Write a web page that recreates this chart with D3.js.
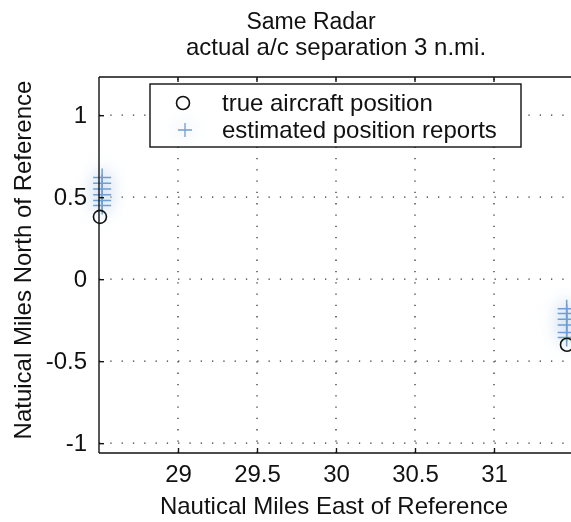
<!DOCTYPE html>
<html>
<head>
<meta charset="utf-8">
<script src="https://cdn.jsdelivr.net/npm/d3@7"></script>
<style>
  html, body { margin: 0; padding: 0; background: #fff; }
  svg { display: block; font-family: "Liberation Sans", Arial, Helvetica, sans-serif; }
</style>
</head>
<body>
<svg id="chart" width="571" height="522"></svg>
<script>
// Tick values for both axes
const xTicks = [29, 29.5, 30, 30.5, 31];
const yTicks = [-1, -0.5, 0, 0.5, 1];

// True aircraft positions (nautical miles)
const trueX = [28.506, 31.462];
const trueY = [0.38, -0.40];

// Radar position reports for both aircraft
const estX = [28.52, 28.52, 28.52, 28.52, 28.52, 28.52,
              31.46, 31.46, 31.46, 31.46, 31.46, 31.46];
const estY = [0.62, 0.585, 0.55, 0.515, 0.48, 0.45,
              -0.18, -0.21, -0.245, -0.28, -0.325, -0.355];

const legendLabels = ["true aircraft position", "estimated position reports"];

const svg = d3.select("#chart");
const plot = { left: 99, right: 573, top: 77, bottom: 453 };
const FS = 24;

const x = d3.scaleLinear().domain([28.5, 31.5]).range([plot.left, plot.right]);
const y = d3.scaleLinear().domain([-1.06, 1.233]).range([plot.bottom, plot.top]);
const fmt = d => String(d); // plain hyphen for negatives

const defs = svg.append("defs");
defs.append("clipPath").attr("id", "clip")
  .append("rect").attr("x", plot.left).attr("y", plot.top)
  .attr("width", plot.right - plot.left).attr("height", plot.bottom - plot.top);
defs.append("filter").attr("id", "haze").attr("x", "-200%").attr("y", "-100%")
  .attr("width", "500%").attr("height", "300%")
  .append("feGaussianBlur").attr("stdDeviation", 8);

// Dotted grid
const grid = svg.append("g").attr("clip-path", "url(#clip)")
  .attr("stroke", "#333").attr("stroke-width", 1.3).attr("stroke-dasharray", "1.3,10");
grid.selectAll("line.gx").data(xTicks).join("line")
  .attr("x1", d => x(d)).attr("x2", d => x(d))
  .attr("y1", plot.bottom).attr("y2", plot.top);
grid.selectAll("line.gy").data(yTicks).join("line")
  .attr("y1", d => y(d)).attr("y2", d => y(d))
  .attr("x1", plot.left).attr("x2", plot.right);

// Position reports: soft halo plus crisp crosshair marks
const marks = svg.append("g");
const est = estX.map((v, i) => ({ x: v, y: estY[i] }));
const plusPath = s => `M${-s},0H${s}M0,${-s}V${s}`;

marks.append("g").attr("filter", "url(#haze)")
  .selectAll("path").data(est).join("path")
  .attr("transform", d => `translate(${x(d.x)},${y(d.y)})`)
  .attr("d", plusPath(12))
  .attr("stroke", "#c4d8ee").attr("stroke-width", 9).attr("opacity", 0.35);

marks.append("g").selectAll("path").data(est).join("path")
  .attr("transform", d => `translate(${x(d.x)},${y(d.y)})`)
  .attr("d", plusPath(9))
  .attr("stroke", "#6f9fd2").attr("stroke-width", 1.5).attr("fill", "none");

// True positions
marks.append("g").selectAll("circle").data(trueX.map((v, i) => ({ x: v, y: trueY[i] })))
  .join("circle")
  .attr("cx", d => x(d.x)).attr("cy", d => y(d.y)).attr("r", 6.5)
  .attr("fill", "none").attr("stroke", "#111").attr("stroke-width", 1.6);

// Axes box with inward ticks
const axes = svg.append("g").attr("stroke", "#111").attr("stroke-width", 1.4).attr("fill", "none");
axes.append("line").attr("x1", plot.left).attr("x2", plot.left).attr("y1", plot.top).attr("y2", plot.bottom);
axes.append("line").attr("x1", plot.left).attr("x2", plot.right).attr("y1", plot.bottom).attr("y2", plot.bottom);
axes.append("line").attr("x1", plot.left).attr("x2", plot.right).attr("y1", plot.top).attr("y2", plot.top);

const xAxis = d3.axisBottom(x).tickValues(xTicks).tickSizeInner(-5).tickSizeOuter(0)
  .tickPadding(12).tickFormat(fmt);
const gx = svg.append("g").attr("transform", `translate(0,${plot.bottom})`).call(xAxis);
gx.select(".domain").remove();

const yAxis = d3.axisLeft(y).tickValues(yTicks).tickSizeInner(-5).tickSizeOuter(0)
  .tickPadding(12).tickFormat(fmt);
const gy = svg.append("g").attr("transform", `translate(${plot.left},0)`).call(yAxis);
gy.select(".domain").remove();

[gx, gy].forEach(g => {
  g.selectAll(".tick line").attr("stroke", "#111").attr("stroke-width", 1.4);
  g.selectAll(".tick text").attr("fill", "#111").attr("font-size", FS)
    .attr("font-family", "Liberation Sans, Arial, sans-serif");
});
// tick marks along the top edge
svg.append("g").selectAll("line").data(xTicks).join("line")
  .attr("x1", d => x(d)).attr("x2", d => x(d))
  .attr("y1", plot.top).attr("y2", plot.top + 5)
  .attr("stroke", "#111").attr("stroke-width", 1.4);

// Legend
const leg = svg.append("g");
leg.append("rect").attr("x", 150).attr("y", 84).attr("width", 371).attr("height", 63)
  .attr("fill", "#fff").attr("stroke", "#111").attr("stroke-width", 1.4);
leg.append("circle").attr("cx", 183).attr("cy", 103).attr("r", 6.5)
  .attr("fill", "none").attr("stroke", "#111").attr("stroke-width", 1.6);
leg.append("path").attr("transform", "translate(185,130)").attr("d", plusPath(10))
  .attr("stroke", "#c4d8ee").attr("stroke-width", 8).attr("opacity", 0.3).attr("filter", "url(#haze)");
leg.append("path").attr("transform", "translate(185,130)").attr("d", plusPath(7))
  .attr("stroke", "#6f9fd2").attr("stroke-width", 1.3);
leg.selectAll("text").data(legendLabels).join("text")
  .attr("x", 222).attr("y", (d, i) => 111 + i * 27)
  .attr("font-size", FS).attr("fill", "#111").text(d => d);

// Titles and axis labels
svg.append("text").attr("x", 311).attr("y", 29).attr("text-anchor", "middle")
  .attr("font-size", 23).attr("fill", "#111").text("Same Radar");
svg.append("text").attr("x", 336).attr("y", 55).attr("text-anchor", "middle")
  .attr("font-size", FS).attr("fill", "#111").text("actual a/c separation 3 n.mi.");
svg.append("text").attr("x", 334).attr("y", 514).attr("text-anchor", "middle")
  .attr("font-size", FS).attr("fill", "#111").text("Nautical Miles East of Reference");
svg.append("text").attr("transform", "translate(31,260) rotate(-90)").attr("text-anchor", "middle")
  .attr("font-size", FS).attr("fill", "#111").text("Natuical Miles North of Reference");
</script>
</body>
</html>
